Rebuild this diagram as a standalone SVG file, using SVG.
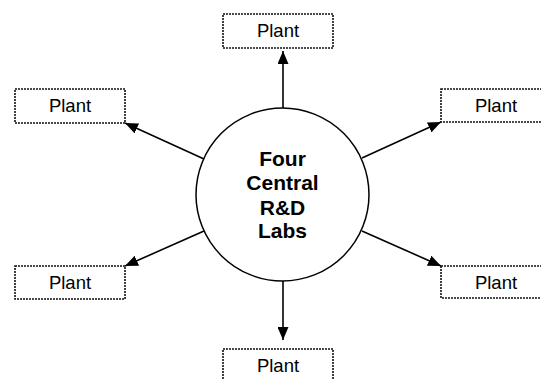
<svg xmlns="http://www.w3.org/2000/svg" width="541" height="379" viewBox="0 0 541 379">
  <style>
    .box { fill: #fff; stroke: #111; stroke-width: 1.6; stroke-dasharray: 2 1; }
    .label { font-family: "Liberation Sans", Arial, sans-serif; font-size: 18.5px; fill: #000; text-anchor: middle; }
    .hub { fill: #fff; stroke: #000; stroke-width: 1.5; }
    .hub-text { font-family: "Liberation Sans", Arial, sans-serif; font-size: 21px; font-weight: bold; fill: #000; text-anchor: middle; }
    .link { stroke: #000; stroke-width: 1.6; fill: none; marker-end: url(#head); }
  </style>
  <defs>
    <marker id="head" viewBox="0 0 13 11" refX="13" refY="5.5" markerWidth="13" markerHeight="11" markerUnits="userSpaceOnUse" orient="auto">
      <path d="M0,0 L13,5.5 L0,11 Z" fill="#000"/>
    </marker>
  </defs>

  <rect width="541" height="379" fill="#fff"/>

  <g id="connectors">
    <line class="link" x1="283" y1="108" x2="283" y2="51"/>
    <line class="link" x1="204" y1="159" x2="125" y2="123"/>
    <line class="link" x1="362" y1="158" x2="441" y2="122"/>
    <line class="link" x1="204" y1="231" x2="125" y2="266"/>
    <line class="link" x1="362" y1="231" x2="441" y2="266"/>
    <line class="link" x1="283" y1="281" x2="283" y2="340"/>
  </g>

  <g id="labs">
    <circle class="hub" cx="282.5" cy="194.5" r="86.5"/>
    <text class="hub-text" x="282.5" y="166">Four</text>
    <text class="hub-text" x="282.5" y="190">Central</text>
    <text class="hub-text" x="282.5" y="215">R&amp;D</text>
    <text class="hub-text" x="282.5" y="238">Labs</text>
  </g>

  <g id="plant-top">
    <rect class="box" x="223" y="14" width="110" height="34"/>
    <text class="label" x="278" y="37">Plant</text>
  </g>
  <g id="plant-upper-left">
    <rect class="box" x="15" y="89" width="110" height="34"/>
    <text class="label" x="70" y="112">Plant</text>
  </g>
  <g id="plant-upper-right">
    <rect class="box" x="441" y="89" width="110" height="33"/>
    <text class="label" x="496" y="112">Plant</text>
  </g>
  <g id="plant-lower-left">
    <rect class="box" x="15" y="266" width="110" height="33"/>
    <text class="label" x="70" y="289">Plant</text>
  </g>
  <g id="plant-lower-right">
    <rect class="box" x="441" y="266" width="110" height="32"/>
    <text class="label" x="496" y="289">Plant</text>
  </g>
  <g id="plant-bottom">
    <rect class="box" x="223" y="349" width="110" height="34"/>
    <text class="label" x="278" y="372">Plant</text>
  </g>
</svg>
